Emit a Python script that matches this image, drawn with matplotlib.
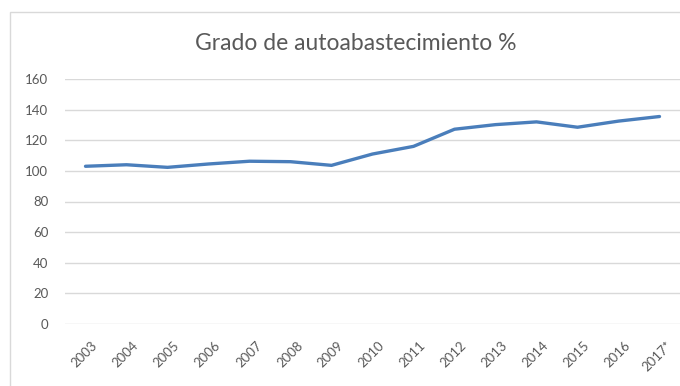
import matplotlib
matplotlib.use("Agg")
import matplotlib.pyplot as plt
import matplotlib.transforms as mtransforms
from matplotlib.patches import Rectangle

years = ["2003", "2004", "2005", "2006", "2007", "2008", "2009", "2010",
         "2011", "2012", "2013", "2014", "2015", "2016", "2017*"]
values = [103, 104, 102.3, 104.5, 106.3, 106, 103.6, 111,
          116, 127.2, 130.2, 132, 128.5, 132.5, 135.5]
yticks = [0, 20, 40, 60, 80, 100, 120, 140, 160]

plt.rcParams["font.family"] = ["Lato", "DejaVu Sans"]

fig = plt.figure(figsize=(6.8, 3.86), dpi=100)
fig.patch.set_facecolor("white")

# chart frame
fig.add_artist(Rectangle((10 / 680, -0.01), 0.99, (386 - 12) / 386 + 0.01,
                         transform=fig.transFigure, fill=False,
                         edgecolor="#d9d9d9", linewidth=1.0))

ax = fig.add_axes([65 / 680, (386 - 324) / 386, 615 / 680, (324 - 79) / 386])
x = list(range(len(years)))
ax.plot(x, values, color="#4a7ebb", linewidth=2.4, solid_capstyle="round")

ax.set_ylim(0, 160)
ax.set_xlim(-0.5, 14.5)
ax.set_yticks(yticks)
ax.set_yticklabels([str(v) for v in yticks], fontsize=9.5, color="#595959")
ax.set_xticks(x)
ax.set_xticklabels(years, rotation=45, ha="right", rotation_mode="anchor",
                   fontsize=9.5, color="#595959")
ax.tick_params(axis="both", length=0)
ax.tick_params(axis="y", pad=12)
ax.tick_params(axis="x", pad=11)
shift = mtransforms.ScaledTranslation(6 / 100, 0, fig.dpi_scale_trans)
for lbl in ax.get_xticklabels():
    lbl.set_transform(lbl.get_transform() + shift)
ax.grid(axis="y", color="#d9d9d9", linewidth=1.0)
ax.set_axisbelow(True)
for s in ax.spines.values():
    s.set_visible(False)

fig.text(356 / 680, 1 - 44 / 386, "Grado de autoabastecimiento %",
         ha="center", va="center", fontsize=16.5, color="#595959")

fig.savefig("out.png", dpi=100)
